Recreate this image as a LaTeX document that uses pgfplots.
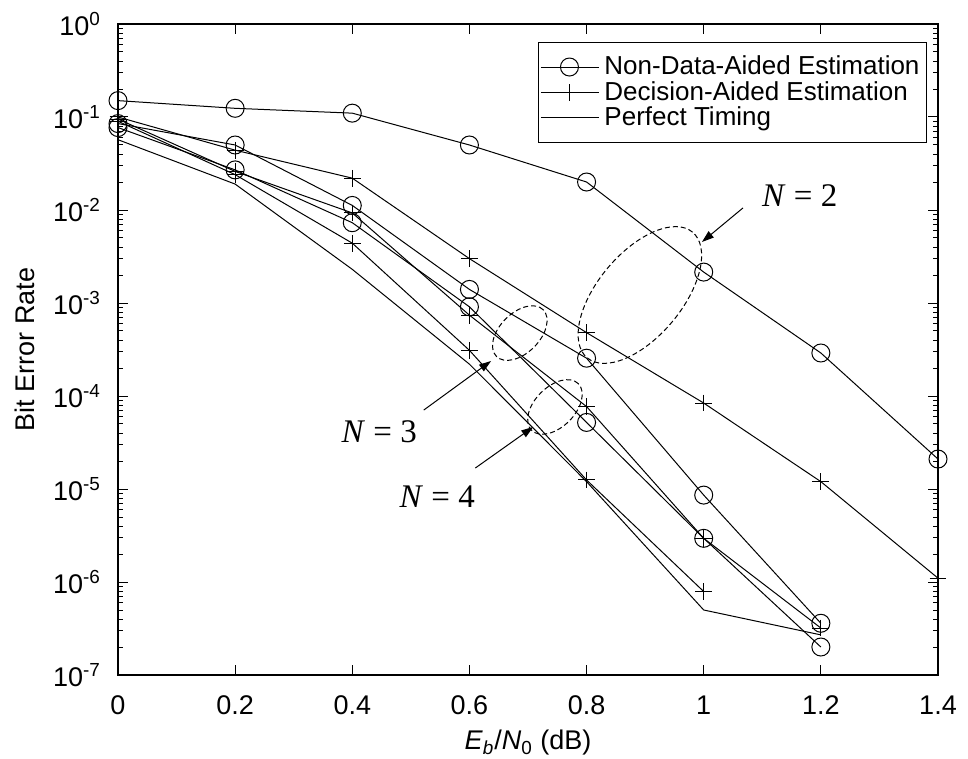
\documentclass[border=0pt]{standalone}
\usepackage{fontspec}
\setmainfont{Liberation Sans}
\newfontfamily\timesf{Liberation Serif}
\usepackage{pgfplots}
\pgfplotsset{compat=1.18}
\usetikzlibrary{arrows.meta}
\begin{document}
\begin{tikzpicture}
\begin{axis}[
  scale only axis, width=410pt, height=325.5pt,
  ymode=log, xmin=0, xmax=1.4, ymin=1e-7, ymax=1,
  xtick={0,0.2,0.4,0.6,0.8,1,1.2,1.4},
  xticklabels={0,0.2,0.4,0.6,0.8,1,1.2,1.4},
  ytick={1e-7,1e-6,1e-5,1e-4,1e-3,1e-2,1e-1,1},
  yticklabels={10\textsuperscript{-7},10\textsuperscript{-6},10\textsuperscript{-5},10\textsuperscript{-4},10\textsuperscript{-3},10\textsuperscript{-2},10\textsuperscript{-1},10\textsuperscript{0}},
  tick align=inside, tick pos=both,
  major tick length=5pt, minor tick length=2.5pt,
  axis line style={line width=0.8pt},
  every tick/.style={black, line width=0.5pt},
  ticklabel style={font=\fontsize{13.5}{16}\selectfont},
  xticklabel style={yshift=-7pt},
  yticklabel style={xshift=-5pt},
  label style={font=\fontsize{13.5}{16}\selectfont},
  xlabel={\textit{E}\textsubscript{\textit{b}}/\textit{N}\textsubscript{0} (dB)},
  ylabel={Bit Error Rate},
  xlabel style={at={(axis description cs:0.5,0)}, anchor=center, yshift=-34pt},
  ylabel style={at={(axis description cs:0,0.5)}, anchor=center, rotate=0, yshift=46.5pt},
  clip=false,
  legend style={at={(1,1)}, anchor=north east, xshift=-5.5pt, yshift=-9pt,
    draw=black, line width=0.5pt, font=\fontsize{13}{13}\selectfont,
    cells={anchor=west}, row sep=1.2pt, inner xsep=1pt, inner ysep=6.5pt,
    nodes={inner xsep=2.5pt, inner ysep=0.3pt}},
  legend image code/.code={\path (-3.5pt,0pt) -- (25.5pt,0pt);\draw[mark repeat=2,mark phase=2,#1] plot coordinates {(0pt,0pt) (10.75pt,0pt) (21.5pt,0pt)};},
  every axis plot/.append style={black, line width=0.5pt},
]
% Non-data-aided, N=2
\addplot[mark=o, mark size=4.5pt] coordinates {(0,0.150) (0.2,0.124) (0.4,0.110) (0.6,0.050) (0.8,0.020) (1.0,2.15e-3) (1.2,2.9e-4) (1.4,2.1e-5)};
\addlegendentry{Non-Data-Aided Estimation}
% Decision-aided, N=2
\addplot[mark=+, mark size=4.2pt] coordinates {(0,0.100) (0.2,0.044) (0.4,0.022) (0.6,3.0e-3) (0.8,4.8e-4) (1.0,8.4e-5) (1.2,1.2e-5) (1.4,1.1e-6)};
\addlegendentry{Decision-Aided Estimation}
% Perfect timing
\addplot[mark=none] coordinates {(0,0.057) (0.2,0.019) (0.4,2.3e-3) (0.6,2.2e-4) (0.8,1.2e-5) (1.0,5.0e-7) (1.2,2.7e-7)};
\addlegendentry{Perfect Timing}
% NDA other
\addplot[mark=o, mark size=4.5pt, forget plot] coordinates {(0,0.085) (0.2,0.050) (0.4,0.0112) (0.6,1.4e-3) (0.8,2.55e-4) (1.0,8.6e-6) (1.2,3.6e-7)};
\addplot[mark=o, mark size=4.5pt, forget plot] coordinates {(0,0.077) (0.2,0.027) (0.4,7.3e-3) (0.6,9.1e-4) (0.8,5.2e-5) (1.0,2.95e-6) (1.2,2.0e-7)};
% DA other
\addplot[mark=+, mark size=4.2pt, forget plot] coordinates {(0,0.095) (0.2,0.026) (0.4,9.3e-3) (0.6,7.4e-4) (0.8,7.7e-5) (1.0,2.95e-6) (1.2,3.2e-7)};
\addplot[mark=+, mark size=4.2pt, forget plot] coordinates {(0,0.090) (0.2,0.024) (0.4,4.4e-3) (0.6,3.1e-4) (0.8,1.25e-5) (1.0,7.9e-7)};
% annotations
\draw[dash pattern=on 2.5pt off 1.5pt, line width=0.5pt] (axis cs:0.891,1.219e-3) ellipse [x radius=41pt, y radius=21pt, rotate=50];
\draw[dash pattern=on 2.5pt off 1.5pt, line width=0.5pt] (axis cs:0.686,4.75e-4) ellipse [x radius=16.5pt, y radius=10pt, rotate=45];
\draw[dash pattern=on 2.5pt off 1.5pt, line width=0.5pt] (axis cs:0.746,7.62e-5) ellipse [x radius=16.5pt, y radius=10pt, rotate=45];
\draw[line width=0.5pt, -{Triangle[length=6pt,width=4pt]}] (axis cs:1.067,1.052e-2) -- (axis cs:0.997,4.53e-3);
\draw[line width=0.5pt, -{Triangle[length=6pt,width=4pt]}] (axis cs:0.522,7.06e-5) -- (axis cs:0.637,2.38e-4);
\draw[line width=0.5pt, -{Triangle[length=6pt,width=4pt]}] (axis cs:0.610,1.68e-5) -- (axis cs:0.709,4.65e-5);
\node[font=\timesf\fontsize{16.5}{19}\selectfont] at (axis cs:1.164,1.416e-2) {\textit{N} = 2};
\node[font=\timesf\fontsize{16.5}{19}\selectfont] at (axis cs:0.446,4.10e-5) {\textit{N} = 3};
\node[font=\timesf\fontsize{16.5}{19}\selectfont] at (axis cs:0.545,8.2e-6) {\textit{N} = 4};
\end{axis}
\pgfresetboundingbox
\path ([shift={(-59pt,-42pt)}]current axis.south west) rectangle ([shift={(15pt,12pt)}]current axis.north east);
\end{tikzpicture}
\end{document}
